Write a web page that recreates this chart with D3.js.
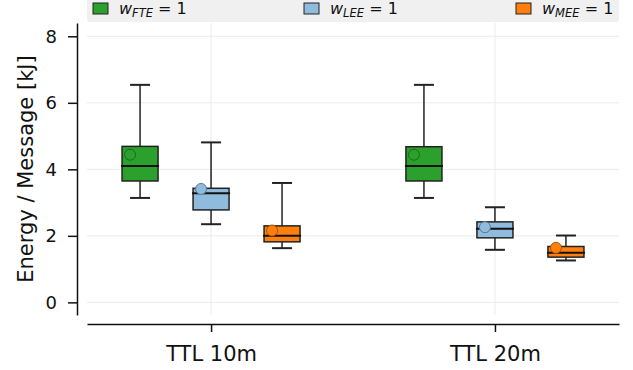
<!DOCTYPE html>
<html>
<head>
<meta charset="utf-8">
<script src="https://cdn.jsdelivr.net/npm/d3@7"></script>
<style>
  body { margin: 0; background: #fff; }
  svg { font-family: "DejaVu Sans", sans-serif; display: block; }
</style>
</head>
<body>
<div id="chart"></div>
<script>
  var width = 633;
  var height = 370;

  // data
  var categories = ["TTL 10m", "TTL 20m"];
  var series = ["FTE", "LEE", "MEE"];
  var colors = ["#2ca02c", "#8fbbdc", "#ff7f0e"];
  var yTicks = [0, 2, 4, 6, 8];

  var whiskerLow  = { FTE: [3.14, 3.14], LEE: [2.35, 1.58], MEE: [1.63, 1.26] };
  var q1          = { FTE: [3.65, 3.65], LEE: [2.78, 1.94], MEE: [1.82, 1.36] };
  var median      = { FTE: [4.10, 4.10], LEE: [3.28, 2.21], MEE: [2.00, 1.49] };
  var q3          = { FTE: [4.69, 4.68], LEE: [3.43, 2.42], MEE: [2.30, 1.68] };
  var whiskerHigh = { FTE: [6.54, 6.54], LEE: [4.81, 2.86], MEE: [3.59, 2.01] };
  var means       = { FTE: [4.44, 4.44], LEE: [3.41, 2.26], MEE: [2.16, 1.64] };

  var svg = d3.select("#chart")
              .append("svg")
              .attr("width", width)
              .attr("height", height);

  var xScale = d3.scalePoint()
    .domain(categories)
    .range([87, 619])
    .padding(0.437);

  var inner = d3.scalePoint()
    .domain(series)
    .range([-71, 71]);

  var yScale = d3.scaleLinear()
    .domain([-0.38, 8.4])
    .range([315, 23]);

  var color = d3.scaleOrdinal().domain(series).range(colors);
  var boxW = 36, capW = 20;

  // grid
  var grid = svg.append("g").attr("stroke", "#ebebeb").attr("stroke-width", 1);
  grid.selectAll(".hg").data(yTicks).enter().append("line")
      .attr("x1", 87).attr("x2", 619)
      .attr("y1", d => yScale(d)).attr("y2", d => yScale(d));
  grid.selectAll(".vg").data(categories).enter().append("line")
      .attr("x1", d => xScale(d)).attr("x2", d => xScale(d))
      .attr("y1", yScale.range()[1]).attr("y2", yScale.range()[0]);

  // legend band on top
  var legend = svg.append("g");
  legend.append("rect")
      .attr("x", 87).attr("y", -6)
      .attr("width", 532).attr("height", 28)
      .attr("rx", 3)
      .attr("fill", "#f0f0f0");
  var legX = [93, 304, 516];
  series.forEach(function(s, i) {
    legend.append("rect")
      .attr("x", legX[i]).attr("y", 3)
      .attr("width", 15).attr("height", 11)
      .attr("fill", color(s))
      .attr("stroke", "#222").attr("stroke-width", 1);
    var t = legend.append("text")
      .attr("x", legX[i] + 26).attr("y", 14)
      .attr("font-size", "16px")
      .attr("fill", "#111");
    t.append("tspan").attr("font-style", "italic").text("w");
    t.append("tspan").attr("font-style", "italic").attr("font-size", "11.5px")
      .attr("dy", 3).text(s);
    t.append("tspan").attr("dy", -3).text(" = 1");
  });

  // axes
  var axisy = d3.axisLeft(yScale).tickValues(yTicks).tickSize(9).tickPadding(11).tickSizeOuter(0);
  var gy = svg.append("g")
    .attr("transform", "translate(77,0)")
    .call(axisy);
  gy.select(".domain").attr("stroke", "#111").attr("stroke-width", 1.5);
  gy.selectAll(".tick line").attr("stroke", "#111").attr("stroke-width", 1.5);
  gy.selectAll(".tick text").attr("font-size", "18px").attr("fill", "#111")
    .attr("font-family", "DejaVu Sans");

  var axisx = d3.axisBottom(xScale).tickSize(8).tickPadding(14).tickSizeOuter(0);
  var gx = svg.append("g")
    .attr("transform", "translate(0,324)")
    .call(axisx);
  gx.select(".domain").attr("stroke", "#111").attr("stroke-width", 1.5);
  gx.selectAll(".tick line").attr("stroke", "#111").attr("stroke-width", 1.5);
  gx.selectAll(".tick text").attr("font-size", "21px").attr("fill", "#111")
    .attr("font-family", "DejaVu Sans");

  svg.append("text")
    .attr("transform", "translate(33,169) rotate(-90)")
    .attr("text-anchor", "middle")
    .attr("font-size", "21px")
    .attr("fill", "#111")
    .text("Energy / Message [kJ]");

  // boxes
  var boxes = [];
  series.forEach(function(s) {
    categories.forEach(function(c, j) {
      boxes.push({ s: s, c: c, lo: whiskerLow[s][j], q1: q1[s][j], med: median[s][j],
                   q3: q3[s][j], hi: whiskerHigh[s][j], mean: means[s][j] });
    });
  });

  var bg = svg.append("g").selectAll("g").data(boxes).enter().append("g")
    .attr("transform", d => "translate(" + (xScale(d.c) + inner(d.s)) + ",0)");

  bg.append("line")
    .attr("x1", 0).attr("x2", 0)
    .attr("y1", d => yScale(d.hi)).attr("y2", d => yScale(d.q3))
    .attr("stroke", "#222").attr("stroke-width", 1.5);
  bg.append("line")
    .attr("x1", 0).attr("x2", 0)
    .attr("y1", d => yScale(d.q1)).attr("y2", d => yScale(d.lo))
    .attr("stroke", "#222").attr("stroke-width", 1.5);
  bg.append("line")
    .attr("x1", -capW / 2).attr("x2", capW / 2)
    .attr("y1", d => yScale(d.hi)).attr("y2", d => yScale(d.hi))
    .attr("stroke", "#222").attr("stroke-width", 2);
  bg.append("line")
    .attr("x1", -capW / 2).attr("x2", capW / 2)
    .attr("y1", d => yScale(d.lo)).attr("y2", d => yScale(d.lo))
    .attr("stroke", "#222").attr("stroke-width", 2);
  bg.append("rect")
    .attr("x", -boxW / 2).attr("width", boxW)
    .attr("y", d => yScale(d.q3))
    .attr("height", d => yScale(d.q1) - yScale(d.q3))
    .attr("fill", d => color(d.s))
    .attr("stroke", "#222").attr("stroke-width", 1.5);
  bg.append("line")
    .attr("x1", -boxW / 2 - 1).attr("x2", boxW / 2 + 1)
    .attr("y1", d => yScale(d.med)).attr("y2", d => yScale(d.med))
    .attr("stroke", "#111").attr("stroke-width", 2);
  bg.append("circle")
    .attr("cx", -10)
    .attr("cy", d => yScale(d.mean))
    .attr("r", 5.5)
    .attr("fill", d => color(d.s))
    .attr("stroke", d => d3.color(color(d.s)).darker(1.2))
    .attr("stroke-width", 1);
</script>
</body>
</html>
